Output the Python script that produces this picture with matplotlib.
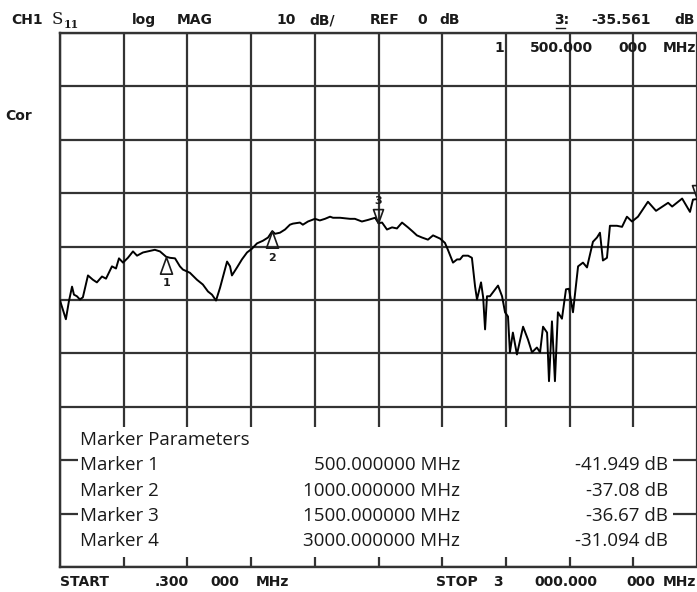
"""Network analyzer S11 trace (log MAG, 10 dB/div) with marker table."""

import matplotlib

matplotlib.use("Agg")
import matplotlib.pyplot as plt
import numpy as np
from matplotlib.patches import Rectangle
from matplotlib.path import Path

W, H = 697, 592

START_MHZ = 0.3
STOP_MHZ = 3000.0
REF_DB = 0.0
DB_PER_DIV = 10.0

# trace
FREQ_MHZ = [
    0.3, 28, 42, 57, 66, 80, 94, 108, 132, 155, 174, 198, 217, 245, 264, 278,
    297, 320, 344, 363, 391, 414, 447, 471, 500, 518, 542, 565, 579, 612, 645,
    673, 697, 716, 735, 754, 768, 787, 801, 810, 834, 857, 881, 904, 928, 956,
    980, 1000, 1013, 1036, 1060, 1083, 1097, 1130, 1144, 1168, 1201, 1224,
    1248, 1272, 1286, 1319, 1366, 1389, 1422, 1451, 1484, 1500, 1517, 1540,
    1564, 1587, 1611, 1639, 1662, 1681, 1705, 1733, 1757, 1790, 1813, 1827,
    1851, 1870, 1884, 1898, 1922, 1940, 1955, 1964, 1983, 1993, 2002, 2011,
    2025, 2063, 2082, 2096, 2110, 2119, 2133, 2152, 2181, 2204, 2223, 2246,
    2261, 2275, 2294, 2303, 2317, 2331, 2345, 2364, 2383, 2397, 2416, 2440,
    2463, 2482, 2510, 2529, 2543, 2557, 2576, 2590, 2623, 2647, 2670, 2694,
    2722, 2769, 2807, 2864, 2883, 2930, 2967, 2981, 3000,
]
S11_DB = [
    -50.1, -53.6, -50.3, -47.5, -49.0, -49.3, -49.9, -49.5, -45.4, -46.2,
    -46.7, -45.6, -46.0, -43.7, -44.1, -42.2, -43.0, -42.1, -40.9, -41.7,
    -41.1, -40.9, -40.6, -40.9, -41.9, -42.1, -42.2, -43.7, -44.3, -44.9,
    -46.2, -47.1, -48.4, -49.0, -50.1, -47.7, -45.6, -42.8, -43.7, -45.4,
    -43.9, -42.4, -41.1, -40.4, -39.4, -38.9, -38.3, -37.1, -37.6, -37.4,
    -36.8, -35.9, -35.7, -35.5, -35.9, -35.3, -34.8, -35.1, -34.8, -34.4,
    -34.6, -34.6, -34.8, -34.8, -35.3, -35.0, -34.6, -35.6, -35.5, -36.8,
    -36.4, -36.6, -35.5, -36.4, -37.2, -37.9, -38.3, -38.7, -37.9, -38.5,
    -39.3, -40.6, -43.0, -42.4, -42.4, -41.7, -41.7, -42.1, -47.5, -49.9,
    -46.7, -49.5, -55.5, -49.3, -49.3, -47.3, -49.3, -52.3, -53.1, -59.8,
    -56.1, -60.2, -55.0, -57.4, -59.8, -58.9, -59.8, -55.0, -56.1, -65.2,
    -54.0, -65.2, -52.3, -53.5, -48.0, -47.9, -52.3, -43.7, -43.0, -43.9,
    -39.1, -38.3, -37.4, -42.6, -42.1, -36.1, -36.1, -36.3, -34.4, -35.3,
    -34.4, -31.6, -33.3, -31.8, -32.5, -31.0, -33.5, -31.2, -31.1,
]

MARKER_IDS = ["1", "2", "3", "4"]
MARKER_FREQS = [500.0, 1000.0, 1500.0, 3000.0]
MARKER_POINTS_UP = [True, True, False, False]
MARKER_LABELLED = [True, True, True, False]  # marker 4 label is off screen

TABLE_TITLE = "Marker Parameters"
TABLE_NAMES = ["Marker 1", "Marker 2", "Marker 3", "Marker 4"]
TABLE_FREQ = ["500.000000 MHz", "1000.000000 MHz", "1500.000000 MHz", "3000.000000 MHz"]
TABLE_DB = ["-41.949 dB", "-37.08 dB", "-36.67 dB", "-31.094 dB"]

INK = "#1a1a1a"
GRID = "#333333"
SCOPE_FONT = dict(family="DejaVu Sans", fontsize=10, fontweight="bold", color=INK)
TABLE_FONT = dict(family=["Open Sans", "DejaVu Sans"], fontsize=13.5, color=INK)


def put(fig, x, y, s, **kw):
    """Place text using pixel coordinates measured from the top-left."""
    kw.setdefault("va", "center")
    return fig.text(x / W, 1 - y / H, s, **kw)


def scope(fig, x, y, s, ha="center"):
    return put(fig, x, y, s, ha=ha, **SCOPE_FONT)


fig = plt.figure(figsize=(W / 100, H / 100), dpi=100)
ax = fig.add_axes([60 / W, 25 / H, 637 / W, 534 / H])

ax.plot(FREQ_MHZ, S11_DB, color="black", linewidth=1.4, zorder=3)

ax.set_xlim(START_MHZ, STOP_MHZ)
ax.set_ylim(REF_DB - 10 * DB_PER_DIV, REF_DB)
ax.set_xticks(np.linspace(START_MHZ, STOP_MHZ, 11))
ax.set_yticks(np.arange(REF_DB - 10 * DB_PER_DIV, REF_DB + 1, DB_PER_DIV))
ax.set_axisbelow(True)
ax.grid(True, color=GRID, linewidth=1.6)
ax.tick_params(
    labelbottom=False, labelleft=False, left=False,
    bottom=True, direction="in", length=7, width=1.4, color=GRID,
)
ax.spines["right"].set_visible(False)
for side in ("top", "left", "bottom"):
    ax.spines[side].set_color(GRID)
    ax.spines[side].set_linewidth(1.7)

# white panel holding the marker table
ax.add_patch(
    Rectangle(
        (18 / 637, 10 / 534), 595 / 637, 130 / 534,
        transform=ax.transAxes, facecolor="white", edgecolor="none", zorder=1.5,
    )
)

# marker triangles sitting on the trace
tri_up = Path([(0, 0), (-0.36, -1), (0.36, -1), (0, 0)], closed=True)
tri_down = Path([(0, 0), (-0.36, 1), (0.36, 1), (0, 0)], closed=True)
marker_db = np.interp(MARKER_FREQS, FREQ_MHZ, S11_DB)
for mid, f, db, up, lab in zip(
    MARKER_IDS, MARKER_FREQS, marker_db, MARKER_POINTS_UP, MARKER_LABELLED
):
    ax.plot(
        [f], [db], marker=tri_up if up else tri_down,
        markersize=24 if up else 20, markerfacecolor="none",
        markeredgecolor=INK, markeredgewidth=1.2, zorder=4,
    )
    if lab:
        ax.annotate(
            mid, (f, db), xytext=(0, -19 if up else 16), textcoords="offset points",
            ha="center", va="center", fontsize=8, fontweight="bold",
            family="DejaVu Sans", color=INK, zorder=4,
        )

# header lines
top_y = 20
scope(fig, 27.5, top_y, "CH1")
put(fig, 52, top_y - 1, "S", family="DejaVu Serif", fontsize=12, color=INK)
put(fig, 64, top_y + 5, "11", family="DejaVu Serif", fontsize=8, fontweight="bold", color=INK)
scope(fig, 144, top_y, "log")
scope(fig, 194.5, top_y, "MAG")
scope(fig, 286, top_y, "10")
scope(fig, 322.5, top_y, "dB/")
scope(fig, 385, top_y, "REF")
scope(fig, 422.5, top_y, "0")
scope(fig, 450, top_y, "dB")
scope(fig, 561.5, top_y, "3:")
scope(fig, 621, top_y, "-35.561")
scope(fig, 695, top_y, "dB", ha="right")
fig.add_artist(
    plt.Line2D([556 / W, 565 / W], [1 - 28 / H, 1 - 28 / H], color=INK, linewidth=1.0)
)

line2_y = 48
scope(fig, 499.5, line2_y, "1")
scope(fig, 561.5, line2_y, "500.000")
scope(fig, 632.5, line2_y, "000")
scope(fig, 696, line2_y, "MHz", ha="right")

scope(fig, 19, 116, "Cor")

# footer
foot_y = 582
scope(fig, 60, foot_y, "START", ha="left")
scope(fig, 171.5, foot_y, ".300")
scope(fig, 225, foot_y, "000")
scope(fig, 272.5, foot_y, "MHz")
scope(fig, 456.5, foot_y, "STOP")
scope(fig, 497.5, foot_y, "3")
scope(fig, 565.5, foot_y, "000.000")
scope(fig, 641, foot_y, "000")
scope(fig, 696, foot_y, "MHz", ha="right")

# marker table
put(fig, 80, 440, TABLE_TITLE, ha="left", **TABLE_FONT)
for i, (name, freq, level) in enumerate(zip(TABLE_NAMES, TABLE_FREQ, TABLE_DB)):
    y = 465 + i * 25.5
    put(fig, 80, y, name, ha="left", **TABLE_FONT)
    put(fig, 460, y, freq, ha="right", **TABLE_FONT)
    put(fig, 668, y, level, ha="right", **TABLE_FONT)

fig.savefig("out.png", dpi=100, facecolor="white")
